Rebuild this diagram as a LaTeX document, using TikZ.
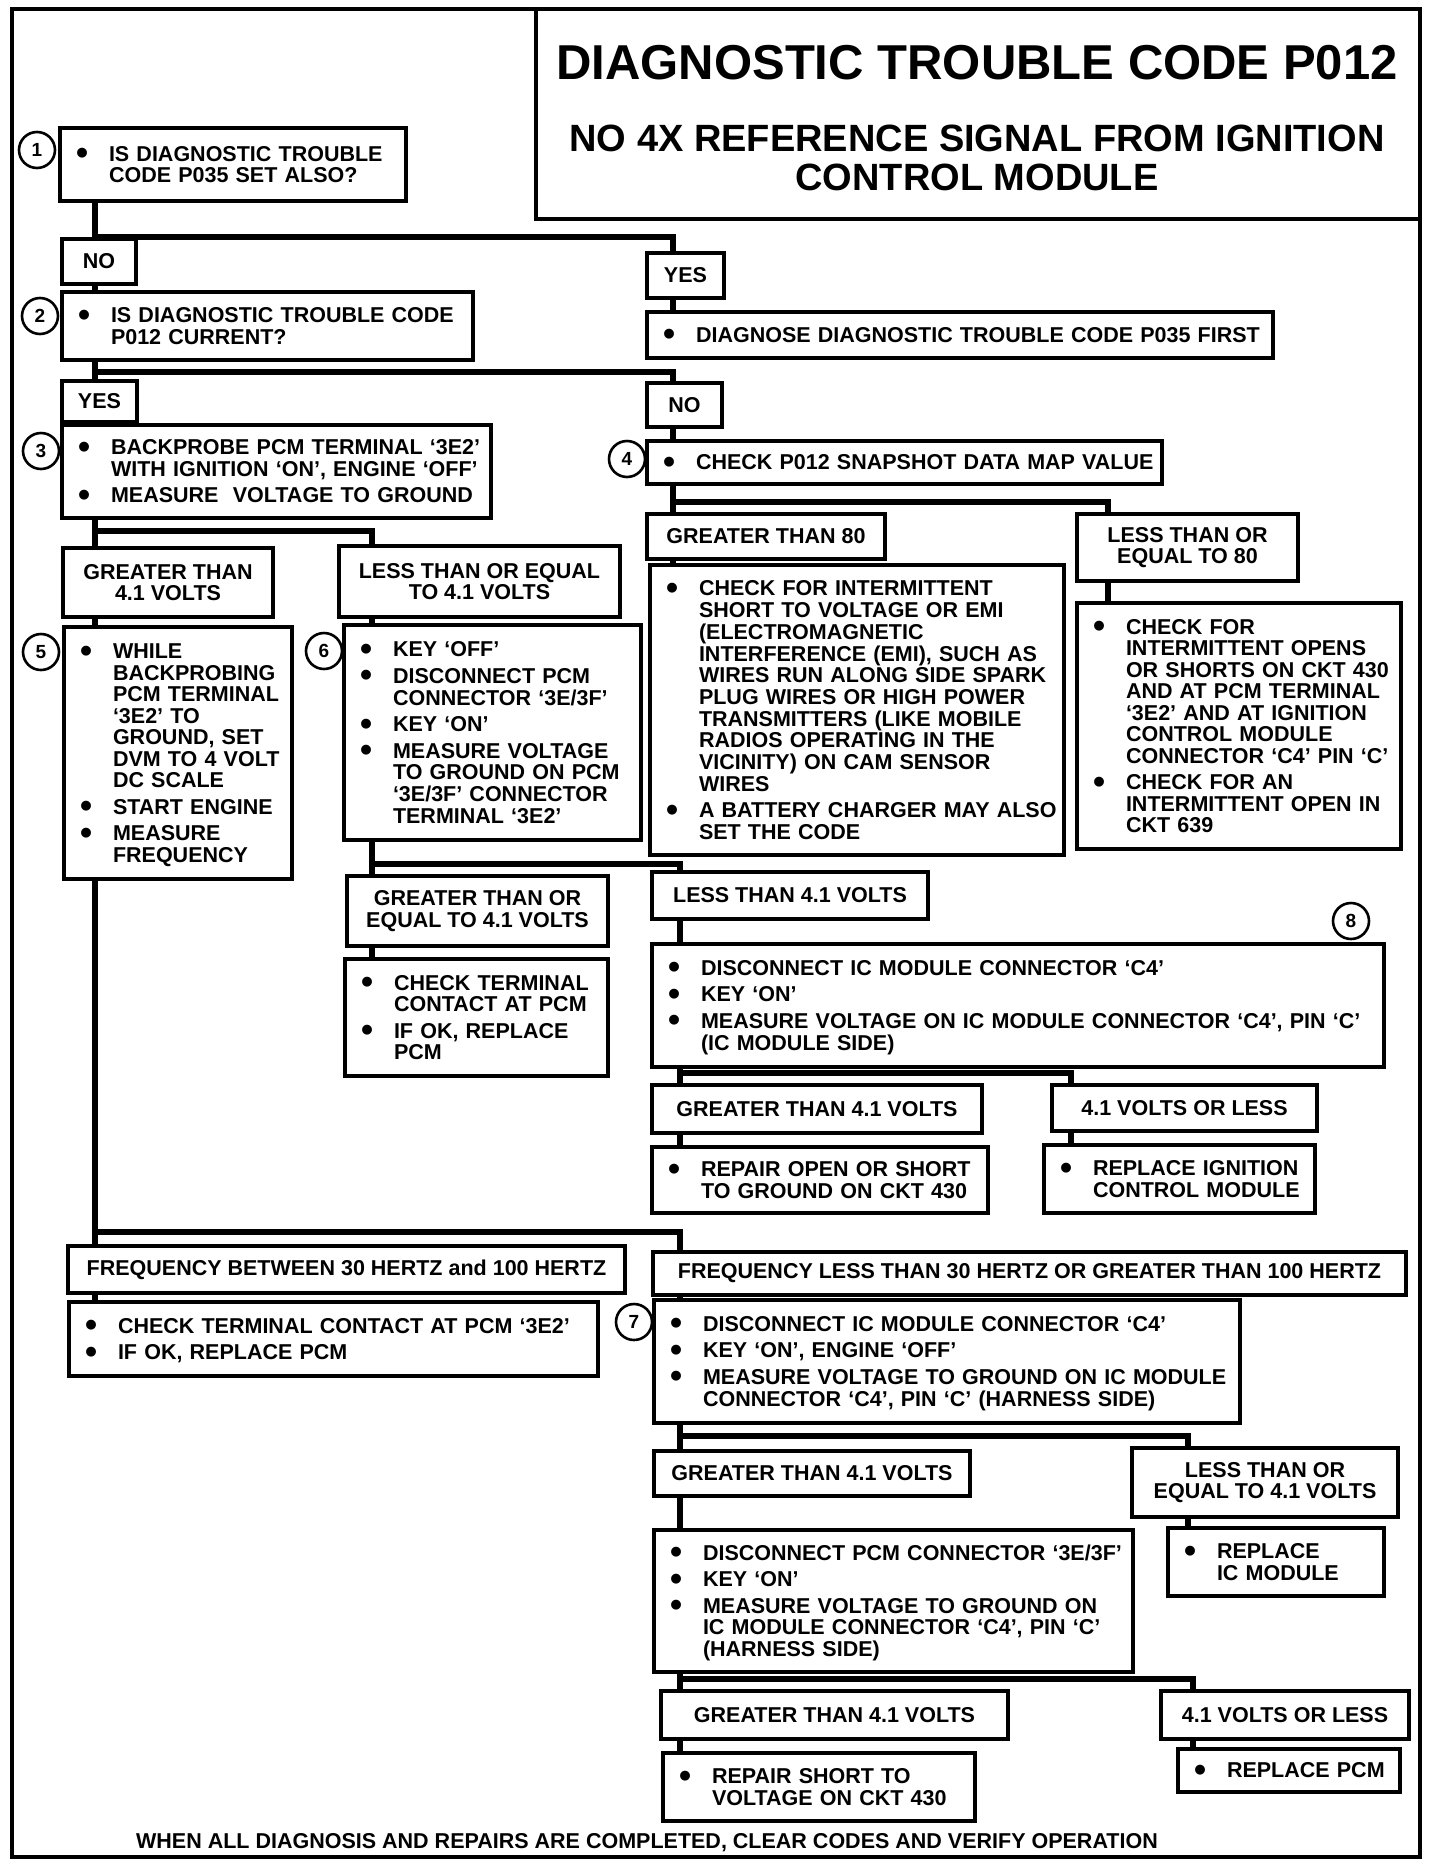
\documentclass[tikz,border=0pt]{standalone}
\usepackage{fontspec}
\setmainfont{Liberation Sans}
\usepackage{graphicx}

\newcommand{\bodyfont}{\fontsize{21.5}{21.5}\selectfont\bfseries}
\newcommand{\numfont}{\fontsize{19}{19}\selectfont\bfseries}
\newcommand{\titlefont}{\fontsize{49}{49}\selectfont\bfseries}
\newcommand{\subfont}{\fontsize{38}{38}\selectfont\bfseries}
\newcommand{\bu}{\makebox[37pt][l]{\hspace{4pt}\raisebox{-3.5pt}[0pt][0pt]{\scalebox{1.6}{\textbullet}}}}
\newcommand{\blist}[1]{\raisebox{-3pt}[\height][\depth]{\begin{tabular}{@{}l@{}l@{}}#1\end{tabular}}}

\begin{document}
\begin{tikzpicture}[x=1pt, y=1pt,
    box/.style={draw, line width=3.5pt, anchor=north west, inner xsep=12pt,
      inner ysep=3pt, outer sep=0pt, font=\bodyfont},
    act/.style 2 args={box, align=left, text width=#1, minimum height=#2},
    lbl/.style 2 args={box, align=center, inner xsep=4pt, minimum width=#1, minimum height=#2},
    num/.style={circle, draw, line width=2.6pt, minimum size=36pt, inner sep=0pt, font=\numfont},
    wire/.style={line width=6pt}]
  \useasboundingbox (0,0) rectangle (1440,-1866);
  \draw[line width=4.5pt] (12,-9) rectangle (1420,-1857);

  % title
  \node[draw, line width=3.5pt, anchor=north west, outer sep=0pt,
    minimum width=884pt, minimum height=210pt] (titlebox) at (536,-9) {};
  \node[anchor=base, font=\titlefont] (t1) at (977,-79) {DIAGNOSTIC TROUBLE CODE P012};
  \node[anchor=base, font=\subfont] (t2) at (977,-151) {NO 4X REFERENCE SIGNAL FROM IGNITION};
  \node[anchor=base, font=\subfont] (t3) at (977,-190) {CONTROL MODULE};

  % step numbers
  \node[num] (n1) at (37,-150) {1};
  \node[num] (n2) at (40,-316) {2};
  \node[num] (n3) at (41,-451) {3};
  \node[num] (n4) at (627,-459) {4};
  \node[num] (n5) at (41,-652) {5};
  \node[num] (n6) at (324,-651) {6};
  \node[num] (n7) at (634,-1322) {7};
  \node[num] (n8) at (1351,-921) {8};

  % left side
  \node[act={322pt}{73pt}] (b1) at (60,-128)
    {\blist{\bu & IS DIAGNOSTIC TROUBLE\\ & CODE P035 SET ALSO?}};
  \node[lbl={74pt}{45pt}] (no1) at (62,-239) {NO};
  \node[act={387pt}{68pt}] (b2) at (62,-292)
    {\blist{\bu & IS DIAGNOSTIC TROUBLE CODE\\ & P012 CURRENT?}};
  \node[lbl={75pt}{41pt}] (yes2) at (62,-381) {YES};
  \node[act={405pt}{93pt}] (b3) at (62,-425)
    {\blist{\bu & BACKPROBE PCM TERMINAL `3E2'\\ & WITH IGNITION `ON', ENGINE `OFF'\\[5pt]
      \bu & MEASURE\ \ VOLTAGE TO GROUND}};
  \node[lbl={210pt}{69pt}] (gt41a) at (63,-548) {GREATER THAN\\4.1 VOLTS};
  \node[lbl={281pt}{71pt}] (le41a) at (339,-546) {LESS THAN OR EQUAL\\TO 4.1 VOLTS};
  \node[act={204pt}{252pt}] (b5) at (64,-627)
    {\blist{\bu & WHILE\\ & BACKPROBING\\ & PCM TERMINAL\\ & `3E2' TO\\ & GROUND, SET\\
      & DVM TO 4 VOLT\\ & DC SCALE\\[5pt] \bu & START ENGINE\\[5pt] \bu & MEASURE\\ & FREQUENCY}};
  \node[act={273pt}{215pt}] (b6) at (344,-625)
    {\blist{\bu & KEY `OFF'\\[5pt] \bu & DISCONNECT PCM\\ & CONNECTOR `3E/3F'\\[5pt] \bu & KEY `ON'\\[5pt]
      \bu & MEASURE VOLTAGE\\ & TO GROUND ON PCM\\ & `3E/3F' CONNECTOR\\ & TERMINAL `3E2'}};
  \node[lbl={261pt}{70pt}] (ge41) at (347,-876) {GREATER THAN OR\\EQUAL TO 4.1 VOLTS};
  \node[act={239pt}{117pt}] (chk6) at (345,-959)
    {\blist{\bu & CHECK TERMINAL\\ & CONTACT AT PCM\\[5pt] \bu & IF OK, REPLACE\\ & PCM}};
  \node[lbl={557pt}{47pt}] (fb) at (68,-1246) {FREQUENCY BETWEEN 30 HERTZ and 100 HERTZ};
  \node[act={505pt}{74pt}] (chk5) at (69,-1302)
    {\blist{\bu & CHECK TERMINAL CONTACT AT PCM `3E2'\\[5pt] \bu & IF OK, REPLACE PCM}};

  % right side
  \node[lbl={77pt}{45pt}] (yes1) at (647,-253) {YES};
  \node[act={602pt}{46pt}] (diag) at (647,-312)
    {\blist{\bu & DIAGNOSE DIAGNOSTIC TROUBLE CODE P035 FIRST}};
  \node[lbl={75pt}{44pt}] (no2) at (647,-383) {NO};
  \node[act={491pt}{43pt}] (b4) at (647,-441)
    {\blist{\bu & CHECK P012 SNAPSHOT DATA MAP VALUE}};
  \node[lbl={238pt}{45pt}] (gt80) at (647,-514) {GREATER THAN 80};
  \node[lbl={221pt}{67pt}] (le80) at (1077,-514) {LESS THAN OR\\EQUAL TO 80};
  \node[act={390pt}{290pt}] (act80) at (650,-565)
    {\blist{\bu & CHECK FOR INTERMITTENT\\ & SHORT TO VOLTAGE OR EMI\\ & (ELECTROMAGNETIC\\
      & INTERFERENCE (EMI), SUCH AS\\ & WIRES RUN ALONG SIDE SPARK\\ & PLUG WIRES OR HIGH POWER\\
      & TRANSMITTERS (LIKE MOBILE\\ & RADIOS OPERATING IN THE\\ & VICINITY) ON CAM SENSOR\\
      & WIRES\\[5pt] \bu & A BATTERY CHARGER MAY ALSO\\ & SET THE CODE}};
  \node[act={300pt}{246pt}] (actle80) at (1077,-603)
    {\blist{\bu & CHECK FOR\\ & INTERMITTENT OPENS\\ & OR SHORTS ON CKT 430\\ & AND AT PCM TERMINAL\\
      & `3E2' AND AT IGNITION\\ & CONTROL MODULE\\ & CONNECTOR `C4' PIN `C'\\[5pt]
      \bu & CHECK FOR AN\\ & INTERMITTENT OPEN IN\\ & CKT 639}};
  \node[lbl={276pt}{47pt}] (lt41) at (652,-872) {LESS THAN 4.1 VOLTS};
  \node[act={708pt}{123pt}] (b8) at (652,-944)
    {\blist{\bu & DISCONNECT IC MODULE CONNECTOR `C4'\\[5pt] \bu & KEY `ON'\\[5pt]
      \bu & MEASURE VOLTAGE ON IC MODULE CONNECTOR `C4', PIN `C'\\ & (IC MODULE SIDE)}};
  \node[lbl={330pt}{48pt}] (gt41b) at (652,-1085) {GREATER THAN 4.1 VOLTS};
  \node[lbl={265pt}{46pt}] (le41b) at (1052,-1085) {4.1 VOLTS OR LESS};
  \node[act={312pt}{66pt}] (rep1) at (652,-1147)
    {\blist{\bu & REPAIR OPEN OR SHORT\\ & TO GROUND ON CKT 430}};
  \node[act={247pt}{68pt}] (rep2) at (1044,-1145)
    {\blist{\bu & REPLACE IGNITION\\ & CONTROL MODULE}};
  \node[lbl={753pt}{43pt}] (fl) at (653,-1252)
    {FREQUENCY LESS THAN 30 HERTZ OR GREATER THAN 100 HERTZ};
  \node[act={562pt}{123pt}] (b7) at (654,-1300)
    {\blist{\bu & DISCONNECT IC MODULE CONNECTOR `C4'\\[5pt] \bu & KEY `ON', ENGINE `OFF'\\[5pt]
      \bu & MEASURE VOLTAGE TO GROUND ON IC MODULE\\ & CONNECTOR `C4', PIN `C' (HARNESS SIDE)}};
  \node[lbl={316pt}{45pt}] (gt41c) at (654,-1451) {GREATER THAN 4.1 VOLTS};
  \node[lbl={266pt}{69pt}] (le41c) at (1132,-1448) {LESS THAN OR\\EQUAL TO 4.1 VOLTS};
  \node[act={192pt}{68pt}] (repic) at (1168,-1528)
    {\blist{\bu & REPLACE\\ & IC MODULE}};
  \node[act={455pt}{142pt}] (b9) at (654,-1530)
    {\blist{\bu & DISCONNECT PCM CONNECTOR `3E/3F'\\[5pt] \bu & KEY `ON'\\[5pt]
      \bu & MEASURE VOLTAGE TO GROUND ON\\ & IC MODULE CONNECTOR `C4', PIN `C'\\ & (HARNESS SIDE)}};
  \node[lbl={347pt}{48pt}] (gt41d) at (661,-1691) {GREATER THAN 4.1 VOLTS};
  \node[lbl={248pt}{48pt}] (le41d) at (1161,-1691) {4.1 VOLTS OR LESS};
  \node[act={288pt}{68pt}] (rep3) at (663,-1753)
    {\blist{\bu & REPAIR SHORT TO\\ & VOLTAGE ON CKT 430}};
  \node[act={198pt}{43pt}] (reppcm) at (1178,-1749)
    {\blist{\bu & REPLACE PCM}};

  \node[anchor=base, font=\bodyfont] (foot) at (647,-1848)
    {WHEN ALL DIAGNOSIS AND REPAIRS ARE COMPLETED, CLEAR CODES AND VERIFY OPERATION};

  % fork points
  \coordinate (f1) at (95,-237);   \coordinate (f1r) at (673,-237);
  \coordinate (f2) at (95,-372);   \coordinate (f2r) at (673,-372);
  \coordinate (f3) at (95,-531);   \coordinate (f3r) at (372,-531);
  \coordinate (f4) at (673,-502);  \coordinate (f4r) at (1108,-502);
  \coordinate (f6) at (372,-864);  \coordinate (f6r) at (680,-864);
  \coordinate (f8) at (680,-1073); \coordinate (f8r) at (1071,-1073);
  \coordinate (f5) at (95,-1232);  \coordinate (f5r) at (680,-1232);
  \coordinate (f7) at (680,-1436); \coordinate (f7r) at (1188,-1436);
  \coordinate (f9) at (680,-1679); \coordinate (f9r) at (1193,-1679);

  \draw[wire] (b1.south -| f1) -- (no1.north -| f1);
  \draw[wire] (f1) -- (f1r) -- (f1r |- yes1.north);
  \draw[wire] (no1.south -| f1) -- (b2.north -| f1);
  \draw[wire] (yes1.south -| f1r) -- (diag.north -| f1r);
  \draw[wire] (b2.south -| f2) -- (yes2.north -| f2);
  \draw[wire] (f2) -- (f2r) -- (f2r |- no2.north);
  \draw[wire] (yes2.south -| f2) -- (b3.north -| f2);
  \draw[wire] (no2.south -| f2r) -- (b4.north -| f2r);
  \draw[wire] (b3.south -| f3) -- (gt41a.north -| f3);
  \draw[wire] (f3) -- (f3r) -- (f3r |- le41a.north);
  \draw[wire] (gt41a.south -| f3) -- (b5.north -| f3);
  \draw[wire] (le41a.south -| f3r) -- (b6.north -| f3r);
  \draw[wire] (b4.south -| f4) -- (gt80.north -| f4);
  \draw[wire] (f4) -- (f4r) -- (f4r |- le80.north);
  \draw[wire] (gt80.south -| f4) -- (act80.north -| f4);
  \draw[wire] (le80.south -| f4r) -- (actle80.north -| f4r);
  \draw[wire] (b6.south -| f6) -- (ge41.north -| f6);
  \draw[wire] (f6) -- (f6r) -- (f6r |- lt41.north);
  \draw[wire] (ge41.south -| f6) -- (chk6.north -| f6);
  \draw[wire] (lt41.south -| f6r) -- (b8.north -| f6r);
  \draw[wire] (b8.south -| f8) -- (gt41b.north -| f8);
  \draw[wire] (f8) -- (f8r) -- (f8r |- le41b.north);
  \draw[wire] (gt41b.south -| f8) -- (rep1.north -| f8);
  \draw[wire] (le41b.south -| f8r) -- (rep2.north -| f8r);
  \draw[wire] (b5.south -| f5) -- (fb.north -| f5);
  \draw[wire] (f5) -- (f5r) -- (f5r |- fl.north);
  \draw[wire] (fb.south -| f5) -- (chk5.north -| f5);
  \draw[wire] (fl.south -| f5r) -- (b7.north -| f5r);
  \draw[wire] (b7.south -| f7) -- (gt41c.north -| f7);
  \draw[wire] (f7) -- (f7r) -- (f7r |- le41c.north);
  \draw[wire] (gt41c.south -| f7) -- (b9.north -| f7);
  \draw[wire] (le41c.south -| f7r) -- (repic.north -| f7r);
  \draw[wire] (b9.south -| f9) -- (gt41d.north -| f9);
  \draw[wire] (f9) -- (f9r) -- (f9r |- le41d.north);
  \draw[wire] (gt41d.south -| f9) -- (rep3.north -| f9);
  \draw[wire] (le41d.south -| f9r) -- (reppcm.north -| f9r);
\end{tikzpicture}
\end{document}
